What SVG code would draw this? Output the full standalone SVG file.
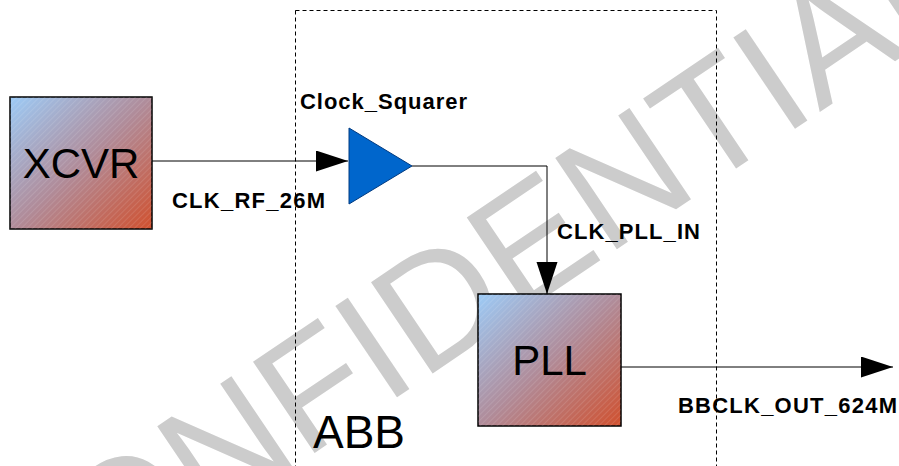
<svg xmlns="http://www.w3.org/2000/svg" width="899" height="466" viewBox="0 0 899 466">
<defs>
<linearGradient id="boxGrad" x1="0" y1="0" x2="1" y2="1">
<stop offset="0" stop-color="#9ccbf7"/>
<stop offset="0.5" stop-color="#b08c9a"/>
<stop offset="1" stop-color="#d0502e"/>
</linearGradient>
<pattern id="hatch" width="4" height="4" patternUnits="userSpaceOnUse" patternTransform="rotate(45)">
<line x1="0" y1="0" x2="0" y2="4" stroke="#ffffff" stroke-width="1" stroke-opacity="0.22"/>
</pattern>
<marker id="arrow" markerUnits="userSpaceOnUse" markerWidth="33" markerHeight="22" refX="32" refY="10.5" orient="auto">
<path d="M0,0 L32,10.5 L0,21 z" fill="#000"/>
</marker>
</defs>
<style>
.wm{font-family:"Liberation Sans",Arial,sans-serif;font-size:160px;fill:#cccccc}
.box{fill:url(#boxGrad);stroke:#000;stroke-width:1.5}
.hatch{fill:url(#hatch);stroke:none}
.big{font-family:"Liberation Sans",Arial,sans-serif;font-size:42px;fill:#000}
.lbl{font-family:"Liberation Sans",Arial,sans-serif;font-size:22px;font-weight:bold;fill:#000}
.wire{fill:none;stroke:#000;stroke-width:1}
</style>
<text class="wm" transform="translate(9,659) rotate(-34)">CONFIDENTIAL</text>
<g id="connectors">
<path class="wire" d="M152,161 H348" marker-end="url(#arrow)"/>
<path class="wire" d="M412,166 H547 V294" marker-end="url(#arrow)"/>
<path class="wire" d="M621,367 H893" marker-end="url(#arrow)"/>
<text x="172" y="208" class="lbl" textLength="153" lengthAdjust="spacing">CLK_RF_26M</text>
<text x="557" y="239" class="lbl" textLength="143" lengthAdjust="spacing">CLK_PLL_IN</text>
<text x="678" y="413" class="lbl" textLength="219" lengthAdjust="spacing">BBCLK_OUT_624M</text>
</g>
<g id="abb">
<rect x="295.5" y="10.5" width="421" height="470" fill="none" stroke="#000" stroke-width="1" stroke-dasharray="4,3"/>
<text x="313" y="448" class="big" style="font-size:46px">ABB</text>
</g>
<g id="xcvr">
<rect x="10" y="97" width="142" height="132" class="box"/>
<rect x="10" y="97" width="142" height="132" class="hatch"/>
<text x="81" y="178" class="big" text-anchor="middle">XCVR</text>
</g>
<g id="clock_squarer">
<polygon points="349,128 412,166 349,204" fill="#0066cc" stroke="#003a80" stroke-width="1"/>
<text x="300" y="109" class="lbl" textLength="167" lengthAdjust="spacing">Clock_Squarer</text>
</g>
<g id="pll">
<rect x="478" y="294" width="143" height="132" class="box"/>
<rect x="478" y="294" width="143" height="132" class="hatch"/>
<text x="549.5" y="375" class="big" text-anchor="middle">PLL</text>
</g>
</svg>
